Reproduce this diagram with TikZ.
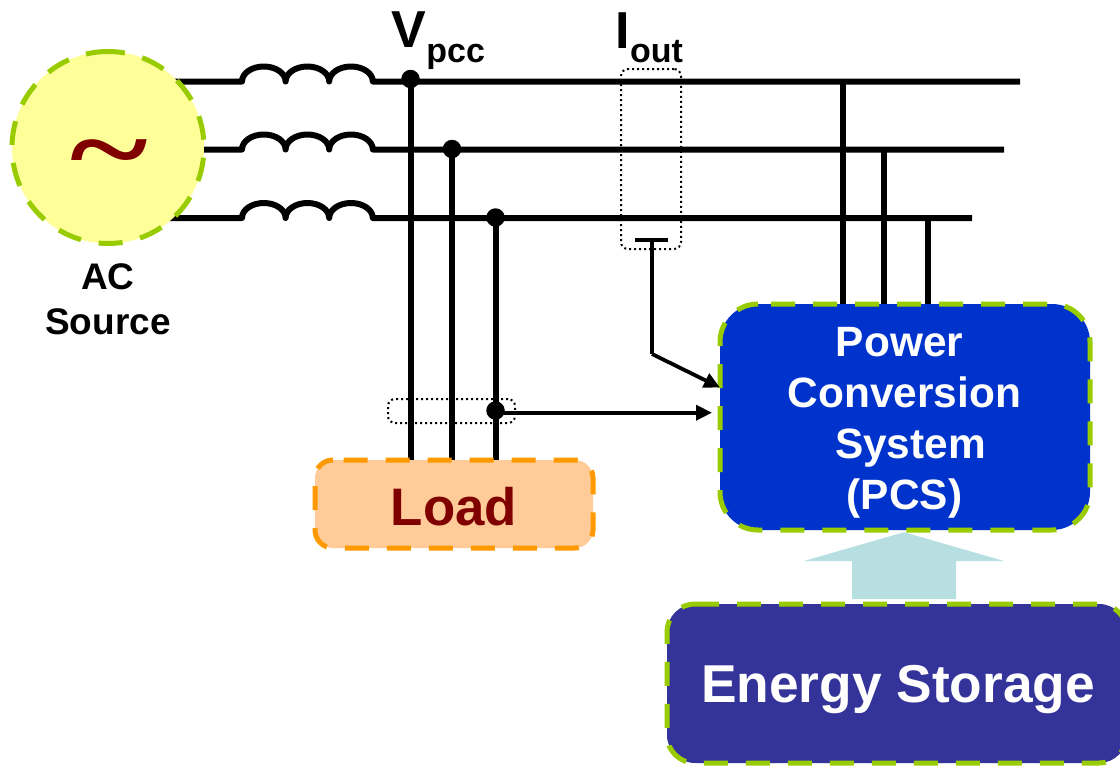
\documentclass[tikz,border=0pt]{standalone}
\usepackage{fontspec}
\setmainfont{Liberation Sans}
\newfontfamily\serifb{Liberation Serif}
\usetikzlibrary{arrows.meta}
\definecolor{gdash}{HTML}{99CC00}
\definecolor{odash}{HTML}{FF9900}
\definecolor{srcfill}{HTML}{FFFF99}
\definecolor{loadfill}{HTML}{FFCC99}
\definecolor{pcsfill}{HTML}{0033CC}
\definecolor{esfill}{HTML}{333399}
\definecolor{dred}{HTML}{800000}
\definecolor{lblue}{HTML}{B7DEE1}
\newcommand{\fsz}[1]{\fontsize{#1}{#1}\selectfont\bfseries}
% x0 y0 x1 y1 r, clockwise from the top edge
\newcommand{\dashedbox}[6][]{%
  \draw[#1] (#2+#6,#3) -- (#4-#6,#3) arc (270:360:#6) -- (#4,#5-#6) arc (0:90:#6)
    -- (#2+#6,#5) arc (90:180:#6) -- (#2,#3+#6) arc (180:270:#6);}
\tikzset{
  x=1pt,y=-1pt,
  wire/.style={line width=6pt,black,line join=round},
  thinwire/.style={line width=4pt,black},
  dotnode/.style={circle,fill=black,minimum size=18.5pt,inner sep=0pt},
  dashgreen/.style={line width=5pt,draw=gdash,dash pattern=on 24pt off 18pt},
  dashorange/.style={line width=5pt,draw=odash,dash pattern=on 24pt off 18pt},
  probe/.style={draw=black,line width=2pt,dash pattern=on 2pt off 3pt,rounded corners=7pt,inner sep=0pt},
  tip/.style={-{Triangle[length=16pt,width=15pt]}},
  txt/.style={inner sep=0pt,anchor=base},
  boxnode/.style={inner sep=0pt,align=center,text=white}
}
\begin{document}
\begin{tikzpicture}
\useasboundingbox (0,0) rectangle (1120,766);
% named points on the lines
\coordinate (a1) at (150,81.5);
\coordinate (a2) at (150,149.5);
\coordinate (a3) at (150,218);
\coordinate (e1) at (1020,81.5);
\coordinate (e2) at (1004,149.5);
\coordinate (e3) at (972,218);
\node[dotnode] (d1) at (410.5,79) {};
\node[dotnode] (d2) at (452,149) {};
\node[dotnode] (d3) at (495.5,217.5) {};
\node[dotnode] (d4) at (495.5,410.5) {};
% wires
\draw[wire] (a1) -- (242,81.5) arc[start angle=180,end angle=360,x radius=21.8,y radius=15]
  arc[start angle=180,end angle=360,x radius=21.8,y radius=15]
  arc[start angle=180,end angle=360,x radius=21.8,y radius=15] -- (d1.center |- a1) -- (e1);
\draw[wire] (a2) -- (242,149.5) arc[start angle=180,end angle=360,x radius=21.8,y radius=15]
  arc[start angle=180,end angle=360,x radius=21.8,y radius=15]
  arc[start angle=180,end angle=360,x radius=21.8,y radius=15] -- (d2.center |- a2) -- (e2);
\draw[wire] (a3) -- (242,218) arc[start angle=180,end angle=360,x radius=21.8,y radius=15]
  arc[start angle=180,end angle=360,x radius=21.8,y radius=15]
  arc[start angle=180,end angle=360,x radius=21.8,y radius=15] -- (d3.center |- a3) -- (e3);
% AC source
\node[circle,fill=srcfill,minimum size=192pt,inner sep=0pt] (src) at (108,147.5) {};
\draw[dashgreen] (108,147.5) ++(265.8:96) arc (265.8:625.8:96);
\node[txt,text=dred,xscale=1.05,yscale=.78] (tilde) at (109,186) {\serifb\fontsize{142}{142}\selectfont\bfseries\char`\~};
\node[inner sep=0pt,align=center,font=\fsz{37}] (srclbl) at (108,299) {AC\\[8pt]Source};
% boxes
\node[fill=loadfill,rounded corners=18pt,minimum width=278pt,minimum height=88pt,inner sep=0pt] (load) at (454,504) {};
\node[txt,text=dred,font=\fsz{52.8}] (loadlbl) at (454,525) {Load};
\node[fill=pcsfill,rounded corners=38pt,minimum width=370pt,minimum height=226pt,inner sep=0pt] (pcs) at (905,417) {};
\node[fill=esfill,rounded corners=28pt,minimum width=460pt,minimum height=159pt,inner sep=0pt] (es) at (897,683.5) {};
% verticals
\draw[wire] (d1.center) -- (d1.center |- load.north);
\draw[wire] (d2.center) -- (d2.center |- load.north);
\draw[wire] (d3.center) -- (d3.center |- load.north);
\coordinate (t1) at (843,82);
\coordinate (t2) at (884,149.5);
\coordinate (t3) at (928,218);
\draw[wire] (t1) -- (t1 |- pcs.north);
\draw[wire] (t2) -- (t2 |- pcs.north);
\draw[wire] (t3) -- (t3 |- pcs.north);
% dashed outlines
\dashedbox[dashorange,dash phase=31.3pt]{315}{460}{593}{548}{18}
\dashedbox[dashgreen,dash phase=29pt]{720}{304}{1090}{530}{38}
\dashedbox[dashgreen]{667}{604}{1127}{763}{28}
% box text
\node[boxnode,font=\fsz{42.4}] (pcslbl) at (904.5,423) {Power\hspace*{10pt}\\[8.6pt]Conversion\\[8.6pt]\hspace*{12pt}System\\[8.6pt](PCS)};
\node[txt,text=white,font=\fsz{53.3}] (eslbl) at (898,702) {Energy Storage};
% probes
\node[probe,minimum width=60pt,minimum height=180pt] (iprobe) at (651,159) {};
\node[probe,minimum width=127pt,minimum height=24pt] (vprobe) at (451.5,411) {};
% labels
\node[inner sep=0pt,anchor=base west] (vlbl) at (391.5,47) {\fsz{52}V\raisebox{-15pt}{\fsz{34}pcc}};
\node[inner sep=0pt,anchor=base west] (ilbl) at (615.5,48) {\fsz{52}I\raisebox{-14pt}{\fsz{34}out}};
% current sensor
\coordinate (tb1) at (635,240);
\coordinate (tb2) at (668,240);
\coordinate (tm) at (652,240);
\coordinate (bend) at (652,354);
\coordinate (i1) at (720,387.5);
\coordinate (i2) at (712,412.7);
\draw[thinwire] (tb1) -- (tb2);
\draw[line width=3.6pt] (tm) -- (bend);
\draw[line width=3.8pt,tip] (bend) -- (i1);
\draw[line width=3.6pt,tip] (d4.center |- i2) -- (i2);
% storage arrow
\draw[fill=lblue,draw=none] (pcs.south) ++(-1,2) coordinate (up) -- (1004,561) -- (956,561) -- (956,599) -- (852,599) -- (852,561) -- (804,561) -- cycle;
\end{tikzpicture}
\end{document}
